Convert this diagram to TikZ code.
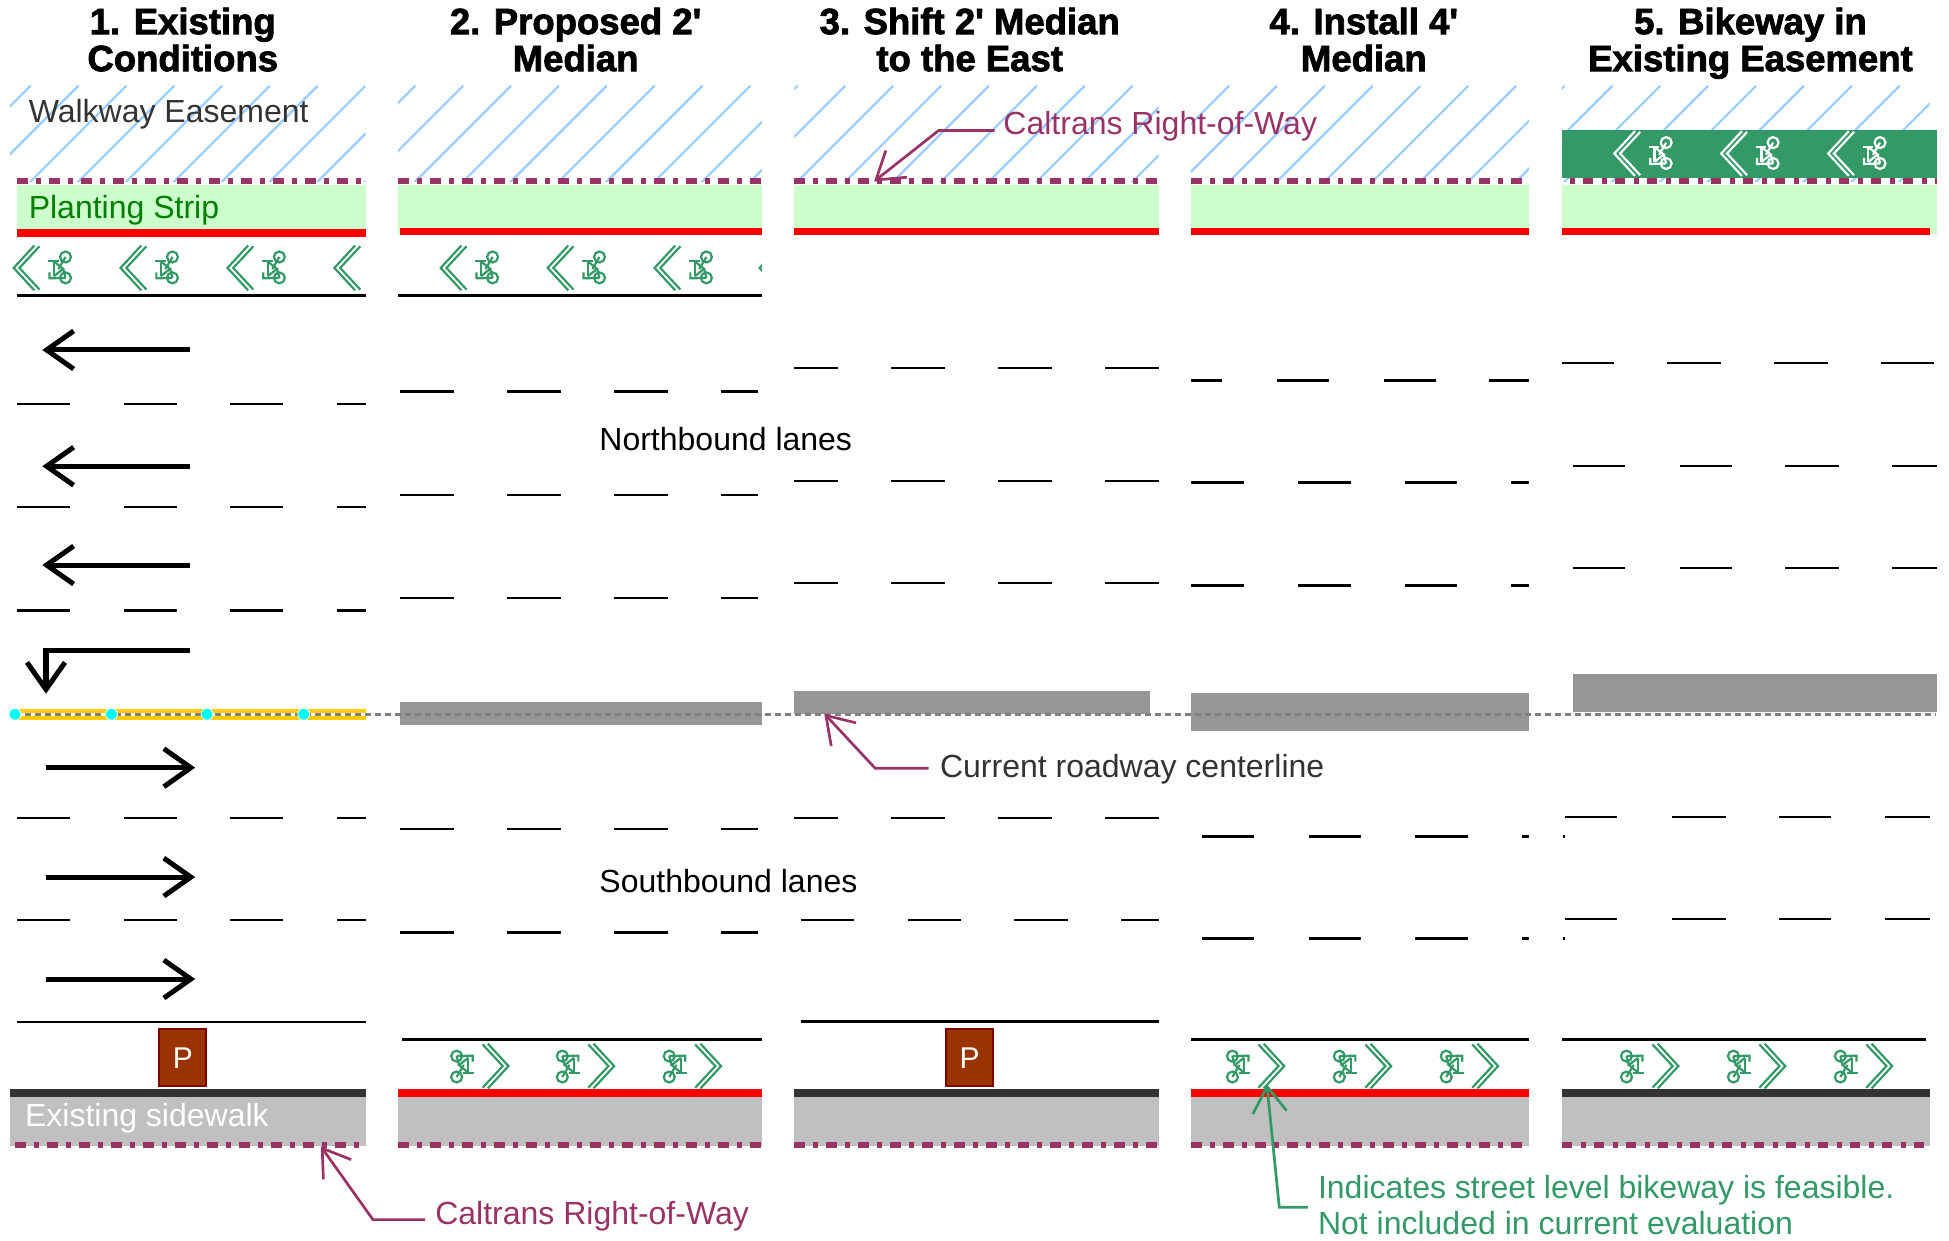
\documentclass[tikz,border=0pt]{standalone}
\usepackage{fontspec}
\setmainfont{Liberation Sans}
\newfontfamily\titlefont[BoldFeatures={FakeBold=2.2}]{Liberation Sans}
\usetikzlibrary{arrows.meta}
\definecolor{row}{HTML}{993366}
\definecolor{bikegreen}{HTML}{339966}
\definecolor{hatchblue}{HTML}{99CCFF}
\definecolor{plant}{HTML}{CCFFCC}
\definecolor{walk}{HTML}{C0C0C0}
\definecolor{darkcurb}{HTML}{333333}
\definecolor{medgray}{HTML}{969696}
\definecolor{yellowline}{HTML}{FFCC00}
\definecolor{parkfill}{HTML}{993300}
\definecolor{parkedge}{HTML}{800000}
\definecolor{dotcyan}{HTML}{00FFFF}
\definecolor{purered}{HTML}{FF0000}
\definecolor{stripgreen}{HTML}{008000}
\definecolor{cline}{HTML}{808080}
\tikzset{
  lane/.style={draw=black,line width=2.5pt},
  edgeline/.style={draw=black,line width=2.8pt},
  rowline/.style={draw=row,line width=5.5pt,dash pattern=on 10.7pt off 8.3pt on 5pt off 8pt},
  hatchline/.style={draw=hatchblue,line width=2.2pt},
  laneArrow/.style={draw=black,line width=5pt,line join=miter,-{Straight Barb[length=27pt,width=38pt,line width=5pt]}},
  callout/.style={line width=2.7pt,-{Straight Barb[length=26pt,width=34pt,line width=2.7pt]}},
  txt/.style={anchor=base west,inner sep=0pt,font=\fontsize{32}{36}\selectfont},
  ttl/.style={anchor=north,inner sep=0pt,align=center,font=\titlefont\bfseries\fontsize{36.5}{37}\selectfont},
  parking/.style={draw=parkedge,fill=parkfill,line width=2pt,text=white,minimum width=47pt,minimum height=57pt,inner sep=0pt,font=\fontsize{30}{32}\selectfont},
}
\newcommand{\bikeicon}[4]{%
  \begin{scope}[shift={(#1,#2)},rotate=#3,draw=#4,line width=2.2pt]
    \draw (16.6,-18)--(0,0)--(16.6,18);
    \draw (20.8,-17.4)--(4.6,0)--(20.8,17.4);
    \draw (41.7,-8.8) circle (4.4);
    \draw (41.7,8) circle (4.4);
    \draw (27.8,-5.3)--(36.3,-5.3);
    \draw (32.3,-5.3)--(32.3,6.7);
    \draw (28.8,3.5)--(28.8,8.4)--(41.7,8);
    \draw (32.3,-5.3)--(39.8,0.8)--(32.3,6.7);
    \draw (39.8,0.8)--(41.7,8);
    \draw (41.7,-8.8)--(36,1);
  \end{scope}}
\newcommand{\hatchcol}[3]{%
  \begin{scope}
    \clip (#1,69) rectangle (#2,146);
    \foreach \k in {-1,...,10} {\draw[hatchline] ({#3+38.5*\k},69)--({#3+38.5*\k-80},149);}
  \end{scope}}
\newcommand{\lanerow}[2]{\foreach \a/\b in {#2} {\draw[lane] (\a,#1)--(\b,#1);}}
\begin{document}
\begin{tikzpicture}[x=1.2432pt,y=-1.2432pt]
\useasboundingbox (0,0) rectangle (1567.7,998.2);
% titles
\node[ttl] (t1) at (147,6) {1. Existing\\Conditions};
\node[ttl] (t2) at (463,6) {2. Proposed 2'\\Median};
\node[ttl] (t3) at (780,6) {3. Shift 2' Median\\to the East};
\node[ttl] (t4) at (1097,6) {4. Install 4'\\Median};
\node[ttl] (t5) at (1408,6) {5. Bikeway in\\Existing Easement};
% hatching
\hatchcol{8}{294}{24.6}
\hatchcol{320}{613}{334}
\hatchcol{639}{932}{680}
\hatchcol{958}{1230}{988.6}
\hatchcol{1256}{1552}{1297}
% planting
\fill[plant] (14,149) rectangle (294,185);
\fill[plant] (320,149) rectangle (613,188);
\fill[plant] (639,149) rectangle (932,185);
\fill[plant] (958,149) rectangle (1230,185);
\fill[plant] (1256,149) rectangle (1558,188);
% bikeway band column 5
\fill[bikegreen] (1256,104.5) rectangle (1558,143);
% right of way top
\draw[rowline] (14,145.5)--(294,145.5);
\draw[rowline] (320,145.5)--(613,145.5);
\draw[rowline] (639,145.5)--(932,145.5);
\draw[rowline] (958,145.5)--(1230,145.5);
\draw[rowline,dash phase=11pt] (1256,145.5)--(1558,145.5);
% red curbs top
\fill[purered] (14,184.5) rectangle (294,190.8);
\fill[purered] (322,183) rectangle (613,189.3);
\fill[purered] (639,183) rectangle (932,189.3);
\fill[purered] (958,183) rectangle (1230,189.3);
\fill[purered] (1256,183) rectangle (1552,189.3);
% top bike lanes
\foreach \x in {11,97,183} {\bikeicon{\x}{215.5}{0}{bikegreen}}
\begin{scope}[draw=bikegreen,line width=2.2pt]
  \draw (285.6,197.5)--(269,215.5)--(285.6,233.5);
  \draw (289.8,198.1)--(273.6,215.5)--(289.8,232.9);
\end{scope}
\foreach \x in {354.5,440.5,526.5} {\bikeicon{\x}{215.5}{0}{bikegreen}}
\begin{scope}
  \clip (600,190) rectangle (613,240);
  \draw[draw=bikegreen,line width=2.2pt] (627.6,197.5)--(611,215.5)--(627.6,233.5);
\end{scope}
\foreach \x in {1298.5,1384.5,1470.5} {\bikeicon{\x}{123.5}{0}{white}}
\draw[edgeline] (14,237.5)--(294,237.5);
\draw[edgeline] (320,237.5)--(613,237.5);
% lane dashes
\lanerow{325}{14/56,100/142,185/228,271/294}
\lanerow{408}{14/56,100/142,185/228,271/294}
\lanerow{491}{14/56,100/142,185/228,271/294}
\lanerow{658}{14/56,100/142,185/228,271/294}
\lanerow{740}{14/56,100/142,185/228,271/294}
\lanerow{315}{322/365,408/451,494/537,580/610}
\lanerow{398}{322/365,408/451,494/537,580/610}
\lanerow{481}{322/365,408/451,494/537,580/610}
\lanerow{667}{322/365,408/451,494/537,580/610}
\lanerow{750}{322/365,408/451,494/537,580/610}
\lanerow{296}{639/674,717/760,803/846,889/932}
\lanerow{387}{639/674,717/760,803/846,889/932}
\lanerow{469}{639/674,717/760,803/846,889/932}
\lanerow{658}{639/674,717/760,803/846,889/932}
\lanerow{740}{644/687,730/773,816/859,902/932}
\lanerow{306}{958/983,1027/1069,1113/1155,1198/1230}
\lanerow{388}{958/1001,1044/1087,1130/1172,1215/1230}
\lanerow{471}{958/1001,1044/1087,1130/1172,1215/1230}
\lanerow{673}{967/1009,1053/1095,1138/1181,1224/1230,1257/1259}
\lanerow{755}{967/1009,1053/1095,1138/1181,1224/1230,1257/1259}
\lanerow{292}{1256/1298,1341/1384,1427/1470,1513/1556}
\lanerow{375}{1265/1307,1351/1393,1436/1479,1522/1558}
\lanerow{457}{1265/1307,1351/1393,1436/1479,1522/1558}
\lanerow{657}{1259/1301,1345/1388,1431/1473,1516/1552}
\lanerow{739}{1259/1301,1345/1388,1431/1473,1516/1552}
% lane arrows
\draw[laneArrow] (153,281.5)--(34,281.5);
\draw[laneArrow] (153,375)--(34,375);
\draw[laneArrow] (153,454.5)--(34,454.5);
\draw[laneArrow] (153,523.5)--(37,523.5)--(37,558);
\draw[laneArrow] (37,617.5)--(157,617.5);
\draw[laneArrow] (37,705.5)--(157,705.5);
\draw[laneArrow] (37,787.5)--(157,787.5);
% medians
\fill[medgray] (322,565) rectangle (613,583);
\fill[medgray] (639,555.5) rectangle (925,574);
\fill[medgray] (958,557.5) rectangle (1230,588);
\fill[medgray] (1265,542) rectangle (1558,573);
% centerline
\draw[draw=yellowline,line width=4pt] (14,571.6)--(294,571.6);
\draw[draw=yellowline,line width=4pt] (14,577.4)--(294,577.4);
\draw[draw=cline,line width=3pt,dash pattern=on 6pt off 4pt] (12,574.5)--(1557,574.5);
\foreach \x in {12,89.7,166.5,244.3} {\fill[dotcyan,draw=white,line width=0.8pt] (\x,574.5) circle (4.8);}
% lower edges
\draw[edgeline] (14,822)--(294,822);
\draw[edgeline] (323,836)--(613,836);
\draw[edgeline] (644,821.5)--(932,821.5);
\draw[edgeline] (958,836)--(1230,836);
\draw[edgeline] (1256,836)--(1549,836);
% bottom bike lanes
\foreach \x in {409,494,580,1033,1119,1205,1350,1436,1522} {\bikeicon{\x}{857.5}{180}{bikegreen}}
% parking
\node[parking] (p1) at (147,851) {P};
\node[parking] (p3) at (780,851) {P};
% sidewalks
\fill[walk] (8,882) rectangle (294,922);
\fill[walk] (320,882) rectangle (613,922);
\fill[walk] (639,882) rectangle (932,922);
\fill[walk] (958,882) rectangle (1230,922);
\fill[walk] (1256,882) rectangle (1552,922);
\fill[darkcurb] (8,876) rectangle (294,882.3);
\fill[purered] (320,876) rectangle (613,882.3);
\fill[darkcurb] (639,876) rectangle (932,882.3);
\fill[purered] (958,876) rectangle (1230,882.3);
\fill[darkcurb] (1256,876) rectangle (1552,882.3);
\draw[rowline] (12,921)--(294,921);
\draw[rowline] (320,921)--(613,921);
\draw[rowline] (639,921)--(932,921);
\draw[rowline] (958,921)--(1230,921);
\draw[rowline] (1256,921)--(1552,921);
% labels
\node[txt,text=darkcurb] (walkway) at (23,98.5) {Walkway Easement};
\node[txt,text=stripgreen] (strip) at (23,176) {Planting Strip};
\node[txt,text=white] (sidewalk) at (20,906.5) {Existing sidewalk};
\node[txt] (north) at (482,362) {Northbound lanes};
\node[txt] (south) at (482,718) {Southbound lanes};
\node[txt,text=row] (row1) at (350,985) {Caltrans Right-of-Way};
\node[txt,text=row] (row2) at (807,108) {Caltrans Right-of-Way};
\node[txt,text=darkcurb] (center) at (756,625) {Current roadway centerline};
\node[txt,text=bikegreen] (feas1) at (1060,964) {Indicates street level bikeway is feasible.};
\node[txt,text=bikegreen] (feas2) at (1060,993) {Not included in current evaluation};
% callouts
\coordinate (c1tail) at (342,981); \coordinate (c1bend) at (300,981); \coordinate (c1tip) at (258,922);
\coordinate (c2tail) at (800,105); \coordinate (c2bend) at (755,105); \coordinate (c2tip) at (703,146);
\coordinate (c3tail) at (747,618); \coordinate (c3bend) at (704,618); \coordinate (c3tip) at (663,574);
\coordinate (c4tail) at (1052,971); \coordinate (c4bend) at (1029,971); \coordinate (c4tip) at (1019,872);
\draw[callout,draw=row] (c1tail)--(c1bend)--(c1tip);
\draw[callout,draw=row] (c2tail)--(c2bend)--(c2tip);
\draw[callout,draw=row] (c3tail)--(c3bend)--(c3tip);
\draw[callout,draw=bikegreen] (c4tail)--(c4bend)--(c4tip);
\end{tikzpicture}
\end{document}
